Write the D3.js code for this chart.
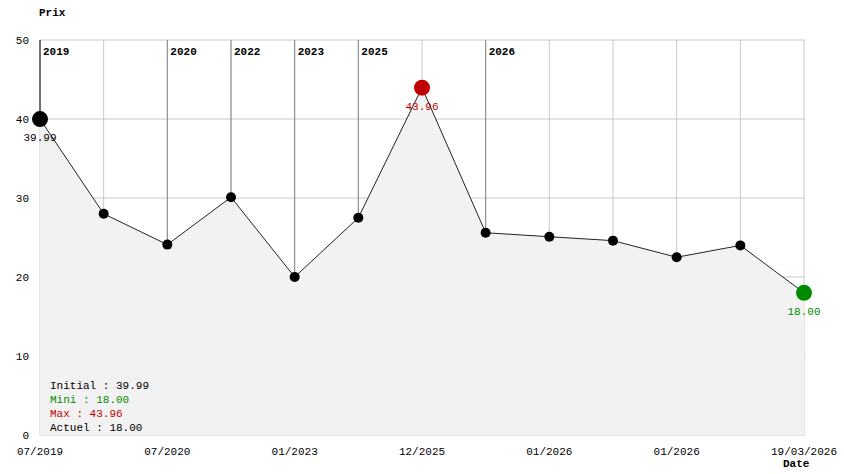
<!DOCTYPE html>
<html><head><meta charset="utf-8">
<script src="https://cdn.jsdelivr.net/npm/d3@7"></script>
<style>body{margin:0;background:#fff}text{font-family:"Liberation Mono","DejaVu Sans Mono",monospace;font-size:11px}</style>
</head><body><svg id="c" width="844" height="474"></svg>
<script>
// data
var prices = [39.99, 28, 24.1, 30.1, 20, 27.5, 43.96, 25.6, 25.1, 24.6, 22.5, 24, 18];
var dateLabels = ["07/2019", "", "07/2020", "", "01/2023", "", "12/2025", "", "01/2026", "", "01/2026", "", "19/03/2026"];
var yearMarks = [[0, "2019"], [2, "2020"], [3, "2022"], [4, "2023"], [5, "2025"], [7, "2026"]];
var yTicks = [0, 10, 20, 30, 40, 50];

var svg = d3.select("#c");
var x = d3.scaleLinear().domain([0, prices.length - 1]).range([40, 804]);
var y = d3.scaleLinear().domain([0, 50]).range([435, 40]);

// grid
svg.selectAll(".hg").data(yTicks).enter().append("line")
    .attr("x1", 40).attr("x2", 805).attr("y1", d => y(d)).attr("y2", d => y(d))
    .attr("stroke", "#c8c8c8");
svg.selectAll(".vg").data(prices).enter().append("line")
    .attr("x1", (d, i) => x(i)).attr("x2", (d, i) => x(i)).attr("y1", 40).attr("y2", 435)
    .attr("stroke", "#c8c8c8");

// area
svg.append("path").datum(prices)
    .attr("d", d3.area().x((d, i) => x(i)).y0(y(0)).y1(d => y(d)))
    .attr("fill", "#f2f2f2");

// year lines
yearMarks.forEach(function(m) {
    svg.append("line").attr("x1", x(m[0])).attr("x2", x(m[0])).attr("y1", 40).attr("y2", y(prices[m[0]]))
        .attr("stroke", m[0] == 0 ? "#000" : "#888");
    svg.append("text").attr("x", x(m[0]) + 3).attr("y", 55).attr("font-weight", "bold").text(m[1]);
});

// line
svg.append("path").datum(prices)
    .attr("d", d3.line().x((d, i) => x(i)).y(d => y(d)))
    .attr("fill", "none").attr("stroke", "#222");

// axes labels
svg.selectAll(".yt").data(yTicks).enter().append("text")
    .attr("x", 29).attr("y", d => y(d) + 4).attr("text-anchor", "end").text(d => d);
svg.selectAll(".xt").data(dateLabels).enter().append("text")
    .attr("x", (d, i) => x(i)).attr("y", 455).attr("text-anchor", "middle").text(d => d);
svg.append("text").attr("x", 39).attr("y", 16).attr("font-weight", "bold").text("Prix");
svg.append("text").attr("x", 783).attr("y", 467).attr("font-weight", "bold").text("Date");

// points
var iMax = prices.indexOf(d3.max(prices)), iMin = prices.length - 1;
prices.forEach(function(d, i) {
    var big = i == 0 || i == iMax || i == iMin;
    var col = i == iMax ? "#c00000" : (i == iMin ? "#008a00" : "#000");
    svg.append("circle").attr("cx", x(i)).attr("cy", y(d)).attr("r", big ? 8 : 5).attr("fill", col);
    if (big) svg.append("text").attr("x", x(i)).attr("y", y(d) + 22).attr("text-anchor", "middle")
        .attr("fill", col).text(d.toFixed(2));
});

// legend
var legend = [["Initial : " + prices[0].toFixed(2), "#000"], ["Mini : " + d3.min(prices).toFixed(2), "#008a00"],
    ["Max : " + d3.max(prices).toFixed(2), "#c00000"], ["Actuel : " + prices[iMin].toFixed(2), "#000"]];
legend.forEach(function(l, i) {
    svg.append("text").attr("x", 50).attr("y", 389 + i * 14).attr("fill", l[1]).text(l[0]);
});
</script></body></html>
